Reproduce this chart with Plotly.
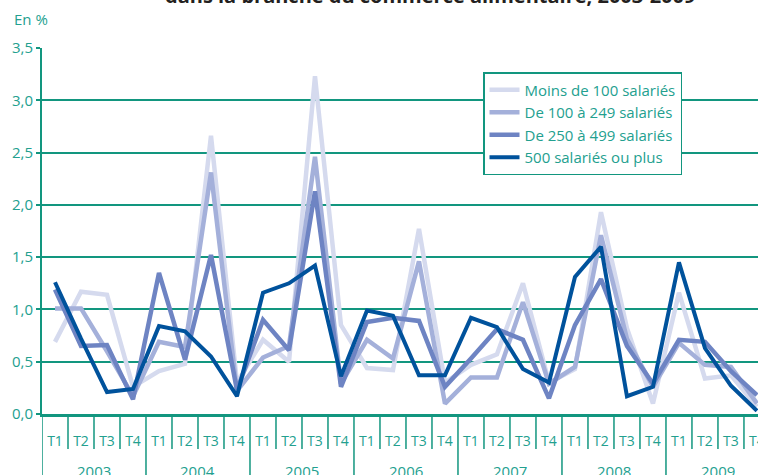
import plotly.graph_objects as go

years = ["2003", "2004", "2005", "2006", "2007", "2008", "2009"]
quarters = ["T1", "T2", "T3", "T4"]

moins_100 = [0.69, 1.17, 1.14, 0.26,
             0.41, 0.48, 2.66, 0.30,
             0.71, 0.50, 3.23, 0.85,
             0.44, 0.42, 1.77, 0.30,
             0.47, 0.57, 1.25, 0.30,
             0.43, 1.93, 0.82, 0.10,
             1.16, 0.34, 0.37, 0.07]
de_100_249 = [1.01, 1.01, 0.60, 0.17,
              0.69, 0.64, 2.31, 0.22,
              0.54, 0.65, 2.46, 0.29,
              0.71, 0.53, 1.46, 0.10,
              0.35, 0.35, 1.07, 0.29,
              0.45, 1.71, 0.72, 0.26,
              0.68, 0.47, 0.45, 0.10]
de_250_499 = [1.19, 0.65, 0.66, 0.14,
              1.35, 0.52, 1.52, 0.23,
              0.90, 0.61, 2.13, 0.26,
              0.88, 0.92, 0.89, 0.26,
              0.53, 0.81, 0.71, 0.15,
              0.85, 1.29, 0.65, 0.29,
              0.71, 0.69, 0.41, 0.18]
plus_500 = [1.26, 0.72, 0.21, 0.24,
            0.84, 0.79, 0.55, 0.17,
            1.16, 1.25, 1.42, 0.36,
            0.99, 0.94, 0.37, 0.37,
            0.92, 0.83, 0.43, 0.30,
            1.31, 1.60, 0.17, 0.26,
            1.45, 0.63, 0.27, 0.03]

series_names = ["Moins de 100 salariés", "De 100 à 249 salariés",
                "De 250 à 499 salariés", "500 salariés ou plus"]
series_values = [moins_100, de_100_249, de_250_499, plus_500]
colors = ["#d5daee", "#a4b0da", "#6e84c3", "#00529c"]
widths = [4.5, 4.5, 4.5, 4]

TEAL = "#12967f"
TXT = "#23a08f"
FONT = "Open Sans"

n = len(years) * len(quarters)
xs = list(range(n))
tick_text = [q for _ in years for q in quarters]

fig = go.Figure()
for name, vals, c, w in zip(series_names, series_values, colors, widths):
    fig.add_trace(go.Scatter(x=xs, y=vals, mode="lines", name=name,
                             legendgroup=name,
                             line=dict(color=c, width=w)))

plot_h = 475 - 48 - 61

shapes = []
for i in range(n):
    b = i - 0.5
    is_year = (i % 4 == 0)
    shapes.append(dict(type="line", xref="x", yref="paper",
                       x0=b, x1=b, y0=0,
                       y1=(-61 / plot_h) if is_year else (-35 / plot_h),
                       line=dict(color=TEAL, width=1.5)))

annotations = []
for k, yr in enumerate(years):
    annotations.append(dict(x=1.5 + 4 * k, y=-45 / plot_h, xref="x", yref="paper",
                            text=yr, showarrow=False, yanchor="top",
                            font=dict(family=FONT, size=15, color=TXT)))
annotations.append(dict(x=-30 / 716, y=(414 - 19) / plot_h, xref="paper", yref="paper",
                        text="En %", showarrow=False, xanchor="left", yanchor="middle",
                        font=dict(family=FONT, size=15, color=TXT)))
annotations.append(dict(x=(430 - 42) / 716, y=(414 - 11) / plot_h, xref="paper", yref="paper",
                        text="<b>dans la branche du commerce alimentaire, 2003-2009</b>",
                        showarrow=False, xanchor="center", yanchor="bottom",
                        font=dict(family=FONT, size=20, color="#231f20")))

fig.update_layout(
    width=758, height=475,
    margin=dict(l=42, r=0, t=48, b=61, autoexpand=False),
    paper_bgcolor="white", plot_bgcolor="white",
    separators=",.",
    showlegend=True,
    legend=dict(x=(483 - 42) / 716, y=(414 - 72) / plot_h, xanchor="left", yanchor="top",
                bgcolor="white", bordercolor=TEAL, borderwidth=1.5,
                font=dict(family=FONT, size=15, color=TXT),
                tracegroupgap=0, traceorder="normal"),
    shapes=shapes,
    annotations=annotations,
    xaxis=dict(range=[-0.5, 27.04], tickmode="array", tickvals=xs, ticktext=tick_text,
               ticks="outside", ticklen=12, tickcolor="rgba(0,0,0,0)",
               automargin=False, ticklabeloverflow="allow",
               showgrid=False, zeroline=False, showline=True, linecolor=TEAL, linewidth=3,
               tickfont=dict(family=FONT, size=14, color=TXT)),
    yaxis=dict(range=[0, 3.5], dtick=0.5, tickformat=".1f",
               ticks="outside", ticklen=4, tickcolor=TEAL, tickwidth=2,
               automargin=False,
               showgrid=True, gridcolor=TEAL, gridwidth=1.5,
               zeroline=False, showline=True, linecolor=TEAL, linewidth=2,
               tickfont=dict(family=FONT, size=15, color=TXT)),
)

fig.write_html("out.html",
               config={"displayModeBar": False},
               post_script="document.body.style.margin='0';document.body.style.overflow='hidden';")
